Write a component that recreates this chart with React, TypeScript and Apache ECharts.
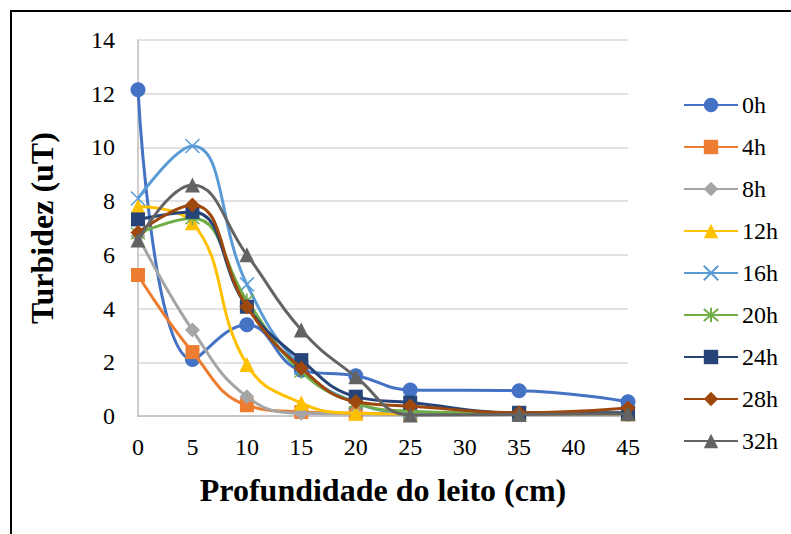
import React, { useEffect, useRef } from "react";
import * as echarts from "echarts";

const depths = [0, 5, 10, 15, 20, 25, 35, 45];
const seriesNames = ["0h", "4h", "8h", "12h", "16h", "20h", "24h", "28h", "32h"];
const s0h = [12.15, 2.1, 3.4, 1.7, 1.5, 0.97, 0.94, 0.53];
const s4h = [5.25, 2.38, 0.4, 0.15, 0.1, 0.08, 0.08, 0.08];
const s8h = [6.7, 3.2, 0.72, 0.1, 0.08, 0.05, 0.05, 0.05];
const s12h = [7.8, 7.2, 1.92, 0.48, 0.1, 0.08, 0.08, 0.08];
const s16h = [8.1, 10.05, 4.9, 1.8, 0.5, 0.15, 0.1, 0.1];
const s20h = [6.8, 7.36, 4.3, 1.65, 0.5, 0.18, 0.1, 0.1];
const s24h = [7.32, 7.6, 4.07, 2.08, 0.72, 0.5, 0.12, 0.12];
const s28h = [6.83, 7.86, 4.07, 1.78, 0.53, 0.37, 0.12, 0.3];
const s32h = [6.55, 8.6, 6.0, 3.2, 1.46, 0.04, 0.06, 0.08];
const xTicks = { min: 0, max: 45, interval: 5 };
const yTicks = { min: 0, max: 14, interval: 2 };

const values = [s0h, s4h, s8h, s12h, s16h, s20h, s24h, s28h, s32h];
const colors = ["#4472C4", "#ED7D31", "#A5A5A5", "#FFC000", "#5B9BD5", "#70AD47", "#264478", "#9E480E", "#636363"];
const CROSS = "path://M0,0L10,10M10,0L0,10";
const STAR = "path://M0,0L10,10M10,0L0,10M5,-1L5,11";
const symbols = ["circle", "rect", "diamond", "triangle", CROSS, STAR, "rect", "diamond", "triangle"];
const symbolSizes = [15, 14, 15, 15, 14, 14, 14, 15, 15];

const FONT = "Liberation Serif";
const LABEL_FONT = "24px 'Liberation Serif'";
const LEGEND_LEFT = 678;
const LEGEND_TOP = 88;
const LEGEND_ITEM_W = 54;
const LEGEND_ITEM_H = 18;
const LEGEND_ROW_H = 24;
const LEGEND_GAP = 18;

export default function App() {
  const ref = useRef<HTMLDivElement>(null);
  useEffect(() => {
    if (!ref.current) return;
    const chart = echarts.init(ref.current, null, { renderer: "svg" });
    const series = seriesNames.map((name, i) => {
      const isStroke = symbols[i] === CROSS || symbols[i] === STAR;
      return {
        name,
        type: "line",
        smooth: 0.45,
        data: depths.map((d, j) => [d, values[i][j]]),
        symbol: symbols[i],
        symbolSize: symbolSizes[i],
        showAllSymbol: true,
        lineStyle: { color: colors[i], width: 3 },
        itemStyle: isStroke
          ? { color: colors[i], borderColor: colors[i], borderWidth: 1.5 }
          : { color: colors[i] },
        z: 2 + i,
      };
    });
    const border = {
      type: "rect",
      shape: { x: 11, y: 11, width: 900, height: 700 },
      style: { fill: "none", stroke: "#000", lineWidth: 2 },
      silent: true,
    };
    chart.setOption({
      animation: false,
      textStyle: { fontFamily: FONT, color: "#000" },
      grid: { left: 138, right: 163, top: 40, bottom: 118, containLabel: false },
      graphic: [border],
      xAxis: {
        type: "value",
        min: xTicks.min,
        max: xTicks.max,
        interval: xTicks.interval,
        name: "Profundidade do leito (cm)",
        nameLocation: "middle",
        nameGap: 58,
        nameTextStyle: { fontFamily: FONT, fontSize: 32, fontWeight: "bold", color: "#000" },
        axisLine: { show: true, lineStyle: { color: "#BFBFBF", width: 1.5 } },
        axisTick: { show: false },
        splitLine: { show: false },
        axisLabel: { show: false },
      },
      yAxis: {
        type: "value",
        min: yTicks.min,
        max: yTicks.max,
        interval: yTicks.interval,
        name: "Turbidez (uT)",
        nameLocation: "middle",
        nameGap: 80,
        nameTextStyle: { fontFamily: FONT, fontSize: 32, fontWeight: "bold", color: "#000" },
        axisLine: { show: true, lineStyle: { color: "#BFBFBF", width: 1.5 } },
        axisTick: { show: false },
        splitLine: { show: true, lineStyle: { color: "#D9D9D9", width: 1.5 } },
        axisLabel: { show: false },
      },
      legend: {
        orient: "vertical",
        left: LEGEND_LEFT,
        top: LEGEND_TOP,
        itemWidth: LEGEND_ITEM_W,
        itemHeight: LEGEND_ITEM_H,
        itemGap: LEGEND_GAP,
        data: seriesNames,
        formatter: () => " ",
        textStyle: { fontSize: 24, lineHeight: LEGEND_ROW_H, color: "#000" },
      },
      series,
    });

    // Tick and legend labels as serif text, placed through the chart's own scales
    const texts: any[] = [];
    const xAxisPx = chart.convertToPixel({ yAxisIndex: 0 }, yTicks.min) as number;
    const yAxisPx = chart.convertToPixel({ xAxisIndex: 0 }, xTicks.min) as number;
    for (let v = xTicks.min; v <= xTicks.max; v += xTicks.interval) {
      const px = chart.convertToPixel({ xAxisIndex: 0 }, v) as number;
      texts.push({
        type: "text",
        x: px,
        y: xAxisPx + 31,
        style: { text: String(v), font: LABEL_FONT, fill: "#000", align: "center", verticalAlign: "middle" },
      });
    }
    for (let v = yTicks.min; v <= yTicks.max; v += yTicks.interval) {
      const py = chart.convertToPixel({ yAxisIndex: 0 }, v) as number;
      texts.push({
        type: "text",
        x: yAxisPx - 23,
        y: py,
        style: { text: String(v), font: LABEL_FONT, fill: "#000", align: "right", verticalAlign: "middle" },
      });
    }
    seriesNames.forEach((name, k) => {
      texts.push({
        type: "text",
        x: LEGEND_LEFT + 5 + LEGEND_ITEM_W + 5,
        y: LEGEND_TOP + 5 + LEGEND_ROW_H / 2 + k * (LEGEND_ROW_H + LEGEND_GAP),
        style: { text: name, font: LABEL_FONT, fill: "#000", align: "left", verticalAlign: "middle" },
      });
    });
    chart.setOption({ graphic: [border, ...texts] });

    return () => chart.dispose();
  }, []);
  return <div ref={ref} style={{ width: 791, height: 534, position: "absolute", left: 0, top: 0, background: "#fff" }} />;
}
